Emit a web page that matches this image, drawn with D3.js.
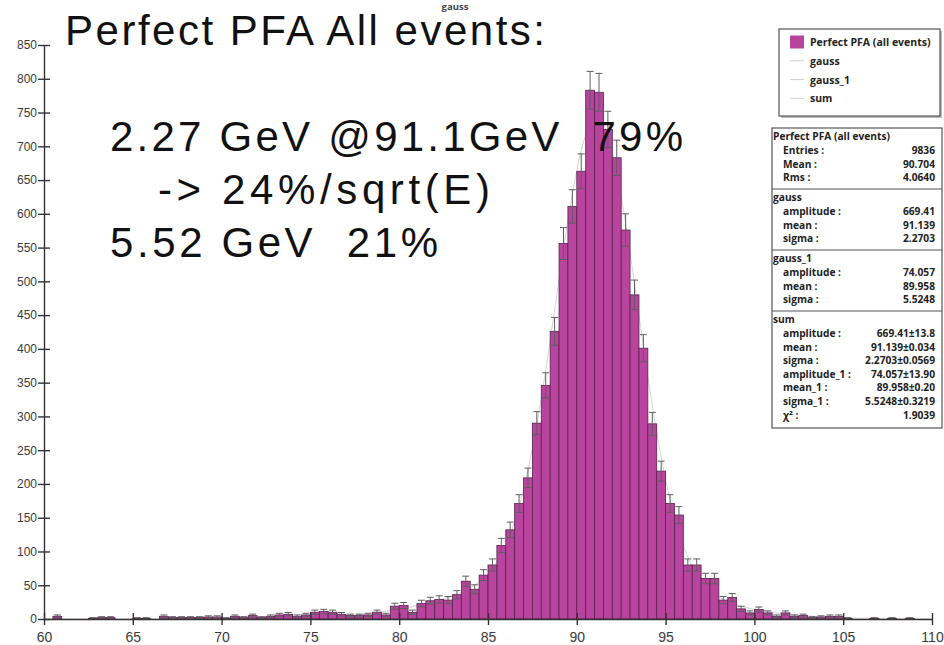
<!DOCTYPE html>
<html>
<head>
<meta charset="utf-8">
<script src="https://cdn.jsdelivr.net/npm/d3@7"></script>
<style>
  html, body { margin: 0; padding: 0; background: #fff; }
  svg { display: block; }
</style>
</head>
<body>
<svg id="chart" width="944" height="645"></svg>
<script>
// Reconstructed energy (GeV), 0.5 GeV bins from 60 to 110
const xMin = 60, xMax = 110, binWidth = 0.5;
const counts = [
  0, 4, 0, 0, 0, 1, 2, 2, 0, 0,          // 60.0 - 64.5
  1, 1, 0, 4, 2, 2, 2, 2, 3, 3,          // 65.0 - 69.5
  1, 4, 2, 5, 2, 4, 6, 7, 4, 6,          // 70.0 - 74.5
  10, 11, 10, 7, 5, 5, 6, 10, 6, 19,     // 75.0 - 79.5
  20, 10, 23, 27, 29, 28, 36, 56, 44, 65,          // 80.0 - 84.5
  80, 109, 132, 171, 209, 290, 346, 426, 556, 611, // 85.0 - 89.5
  663, 783, 780, 725, 683, 576, 480, 401, 289, 219, // 90.0 - 94.5
  171, 154, 80, 80, 60, 60, 28, 32, 15, 9,          // 95.0 - 99.5
  14, 9, 4, 9, 4, 5, 2, 3, 4, 4,         // 100.0 - 104.5
  1, 0, 0, 1, 0, 1, 0, 1, 0, 0           // 105.0 - 109.5
];

const xTicks = [60, 65, 70, 75, 80, 85, 90, 95, 100, 105, 110];
const yTicks = [0, 50, 100, 150, 200, 250, 300, 350, 400, 450, 500, 550, 600, 650, 700, 750, 800, 850];

// Fit results: [amplitude, mean, sigma]
const gaussFit = [669.41, 91.139, 2.2703];
const gauss1Fit = [74.057, 89.958, 5.5248];

const histStats = [["Entries :", "9836"], ["Mean :", "90.704"], ["Rms :", "4.0640"]];
const gaussStats = [["amplitude :", "669.41"], ["mean :", "91.139"], ["sigma :", "2.2703"]];
const gauss1Stats = [["amplitude :", "74.057"], ["mean :", "89.958"], ["sigma :", "5.5248"]];
const sumStats = [
  ["amplitude :", "669.41\u00b113.8"], ["mean :", "91.139\u00b10.034"], ["sigma :", "2.2703\u00b10.0569"],
  ["amplitude_1 :", "74.057\u00b113.90"], ["mean_1 :", "89.958\u00b10.20"], ["sigma_1 :", "5.5248\u00b10.3219"],
  ["\u03c7\u00b2 :", "1.9039"]
];
const legendItems = ["Perfect PFA (all events)", "gauss", "gauss_1", "sum"];
const noteLines = ["Perfect PFA All events:", "2.27 GeV @91.1GeV  79%", "-> 24%/sqrt(E)", "5.52 GeV  21%"];

const svg = d3.select("#chart");
const x = d3.scaleLinear().domain([xMin, xMax]).range([44, 932]);
const y = d3.scaleLinear().domain([0, 850]).range([619, 45]);

const barFill = "#b8449e", barStroke = "#5a2050";

// histogram title
svg.append("text").attr("x", 455).attr("y", 10).attr("text-anchor", "middle")
  .attr("font-family", "Open Sans, DejaVu Sans, sans-serif").attr("font-size", 9.5)
  .attr("font-weight", "bold").attr("fill", "#444").text("gauss");

// fit curves (faint, behind the bars)
const gaussFn = p => v => p[0] * Math.exp(-((v - p[1]) ** 2) / (2 * p[2] * p[2]));
const fg = gaussFn(gaussFit), fg1 = gaussFn(gauss1Fit);
const grid = d3.range(xMin, xMax + 0.001, 0.1);
const line = d3.line().x(d => x(d[0])).y(d => y(d[1]));
svg.append("path").datum(grid.map(v => [v, fg(v)]))
  .attr("d", line).attr("fill", "none").attr("stroke", "#eeeeee").attr("stroke-width", 1);
svg.append("path").datum(grid.map(v => [v, fg1(v)]))
  .attr("d", line).attr("fill", "none").attr("stroke", "#eeeeee").attr("stroke-width", 1);
svg.append("path").datum(grid.map(v => [v, fg(v) + fg1(v)]))
  .attr("d", line).attr("fill", "none").attr("stroke", "#d4d4d4").attr("stroke-width", 1);

// bars
const bins = counts.map((c, i) => ({ lo: xMin + i * binWidth, hi: xMin + (i + 1) * binWidth, c }))
  .filter(d => d.c > 0);
svg.append("g").selectAll("rect").data(bins).join("rect")
  .attr("x", d => x(d.lo)).attr("width", d => x(d.hi) - x(d.lo))
  .attr("y", d => y(d.c)).attr("height", d => y(0) - y(d.c))
  .attr("fill", barFill).attr("stroke", barStroke).attr("stroke-width", 0.8);

// statistical error bars
const eb = svg.append("g").attr("stroke", "#5e5e5e").attr("stroke-width", 1);
bins.forEach(d => {
  const cx = (x(d.lo) + x(d.hi)) / 2, e = Math.sqrt(d.c);
  const yt = y(d.c + e), yb = y(Math.max(d.c - e, 0));
  eb.append("line").attr("x1", cx).attr("x2", cx).attr("y1", yt).attr("y2", yb);
  eb.append("line").attr("x1", cx - 3.5).attr("x2", cx + 3.5).attr("y1", yt).attr("y2", yt);
  eb.append("line").attr("x1", cx - 3.5).attr("x2", cx + 3.5).attr("y1", yb).attr("y2", yb);
});

// axes
const axisFont = "Liberation Sans Narrow, Liberation Sans, Arial, sans-serif";
const gy = svg.append("g").attr("transform", "translate(44,0)")
  .call(d3.axisLeft(y).tickValues(yTicks).tickSize(6).tickSizeOuter(0));
gy.select(".domain").attr("stroke", "#333").attr("stroke-width", 1.4);
gy.selectAll(".tick line").attr("x1", 6).attr("x2", -6).attr("stroke", "#333").attr("stroke-width", 1.4);
gy.selectAll(".tick text").attr("x", -7).attr("font-family", axisFont).attr("font-size", 12).attr("fill", "#3a3a3a");

const gx = svg.append("g").attr("transform", "translate(0,619)")
  .call(d3.axisBottom(x).tickValues(xTicks).tickSize(6).tickSizeOuter(0));
gx.select(".domain").attr("stroke", "#333").attr("stroke-width", 1.4);
gx.selectAll(".tick line").attr("y1", -6).attr("y2", 6).attr("stroke", "#333").attr("stroke-width", 1.4);
gx.selectAll(".tick text").attr("y", 13).attr("font-family", axisFont).attr("font-size", 14).attr("fill", "#3a3a3a");

// legend box
const boxFont = "Open Sans, DejaVu Sans, sans-serif";
const lg = svg.append("g");
lg.append("rect").attr("x", 781).attr("y", 31).attr("width", 161).attr("height", 87).attr("fill", "#bbb");
lg.append("rect").attr("x", 779).attr("y", 29).attr("width", 161).attr("height", 87)
  .attr("fill", "#fff").attr("stroke", "#555").attr("stroke-width", 1.2);
legendItems.forEach((t, i) => {
  const cy = 42 + i * 18.8;
  if (i === 0) {
    lg.append("rect").attr("x", 790).attr("y", cy - 6.5).attr("width", 14).attr("height", 13).attr("fill", barFill);
  } else {
    lg.append("line").attr("x1", 790).attr("x2", 804).attr("y1", cy).attr("y2", cy)
      .attr("stroke", "#d0d0d0").attr("stroke-width", 1);
  }
  lg.append("text").attr("x", 810).attr("y", cy + 4).attr("font-family", boxFont)
    .attr("font-size", 10.5).attr("font-weight", "bold").attr("fill", "#222").text(t);
});

// statistics box
const sb = svg.append("g").attr("font-family", boxFont).attr("font-size", 10.2)
  .attr("font-weight", "bold").attr("fill", "#222");
sb.append("rect").attr("x", 772).attr("y", 128).attr("width", 170).attr("height", 300)
  .attr("fill", "#fff").attr("stroke", "#555").attr("stroke-width", 1.2);
const sections = [
  ["Perfect PFA (all events)", histStats, 128],
  ["gauss", gaussStats, 189],
  ["gauss_1", gauss1Stats, 250],
  ["sum", sumStats, 311]
];
sections.forEach(([title, rows, top], si) => {
  if (si > 0) {
    sb.append("line").attr("x1", 772).attr("x2", 942).attr("y1", top).attr("y2", top)
      .attr("stroke", "#555").attr("stroke-width", 1.2);
  }
  sb.append("text").attr("x", 773).attr("y", top + 12).text(title);
  rows.forEach((r, ri) => {
    const by = top + 26 + ri * 13.6;
    sb.append("text").attr("x", 783).attr("y", by).text(r[0]);
    sb.append("text").attr("x", 935).attr("y", by).attr("text-anchor", "end").text(r[1]);
  });
});

// annotation text
const noteFont = "Liberation Sans, Arial, sans-serif";
const notePos = [[65, 45, 480], [110, 151, 573], [158, 204, 332], [110, 257, 328]];
noteLines.forEach((t, i) => {
  svg.append("text").attr("x", notePos[i][0]).attr("y", notePos[i][1])
    .attr("font-family", noteFont).attr("font-size", 42).attr("fill", "#111")
    .attr("textLength", notePos[i][2]).attr("lengthAdjust", "spacing")
    .style("white-space", "pre").text(t);
});
</script>
</body>
</html>
